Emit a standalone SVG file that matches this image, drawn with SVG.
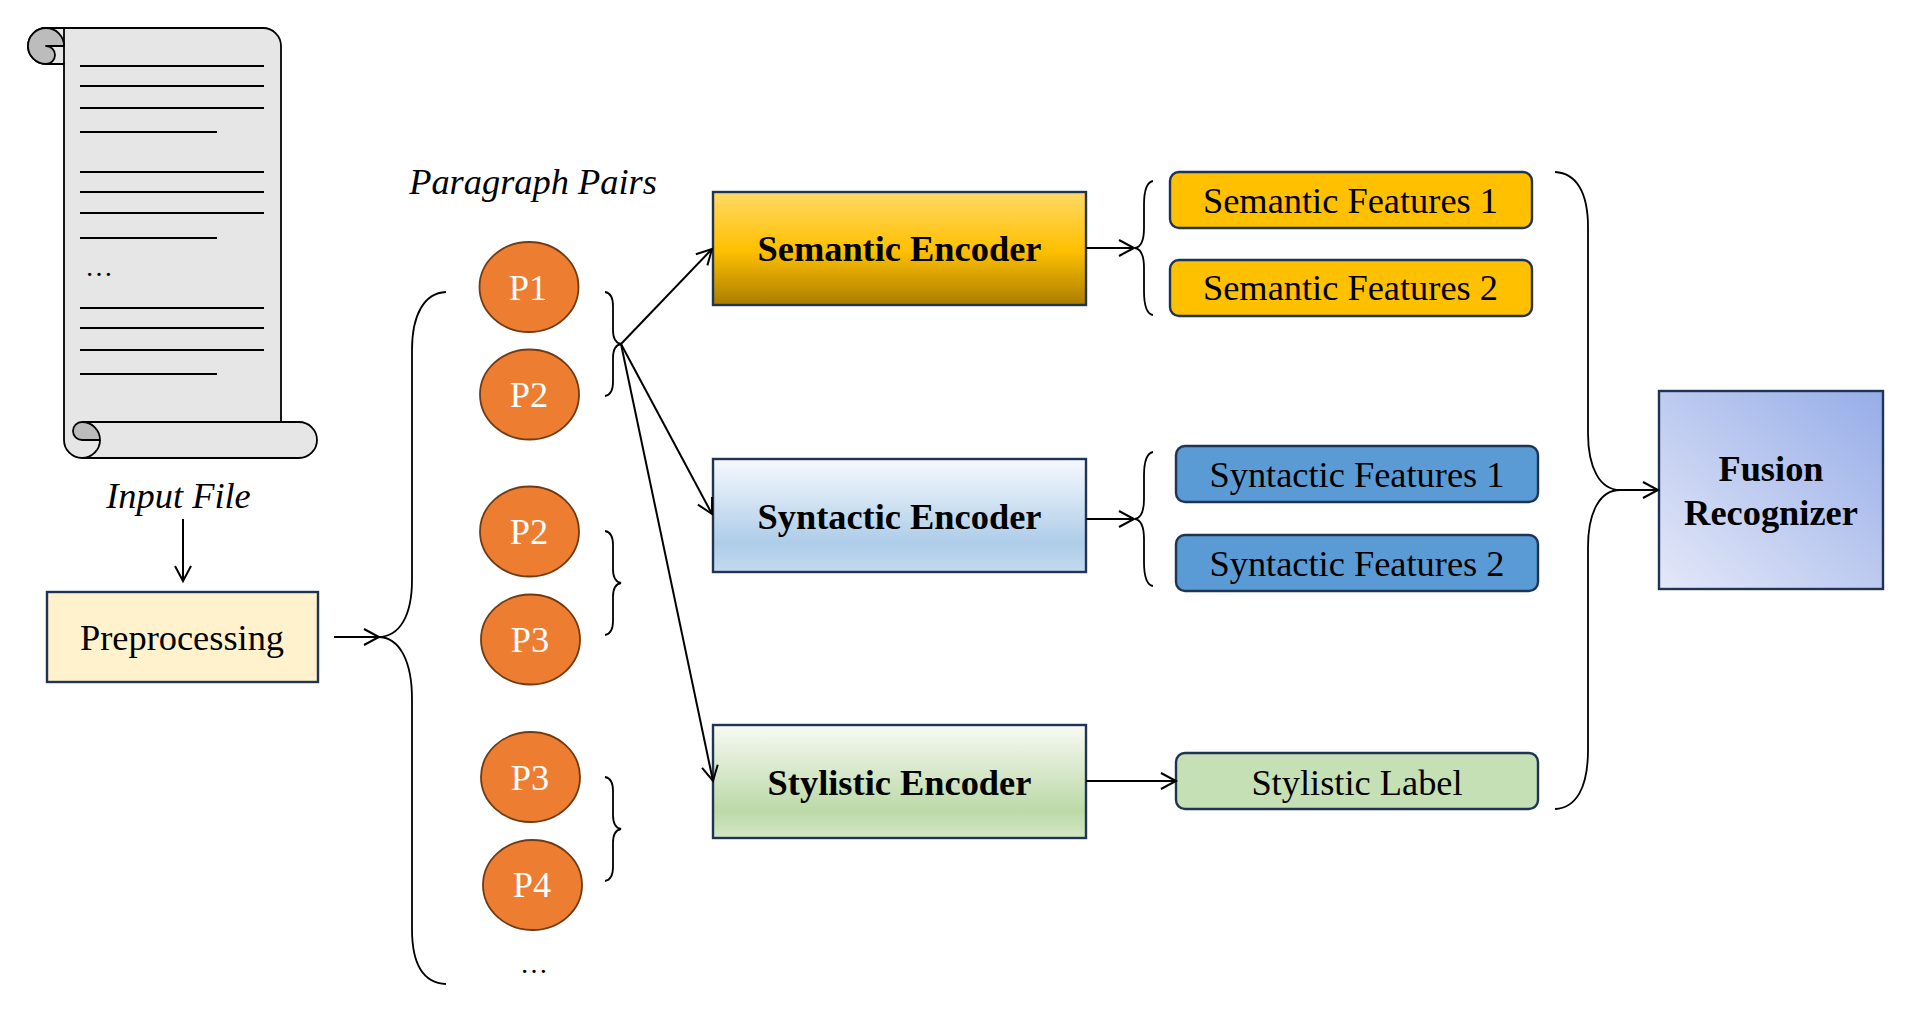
<svg xmlns="http://www.w3.org/2000/svg" width="1930" height="1033" viewBox="0 0 1930 1033">
<style>
text{font-family:"Liberation Serif","Times New Roman",serif;font-size:36.4px;fill:#000;text-anchor:middle}
.b{font-weight:700}
.i{font-style:italic}
.w{fill:#fff}
.box{stroke:#1f3454;stroke-width:2.4}
.c{fill:#ed7d31;stroke:#6f3a14;stroke-width:1.8}
.ln{fill:none;stroke:#000;stroke-width:2}
.sc{stroke:#000;stroke-width:1.8;fill:#e6e6e6;stroke-linejoin:round}
.dk{fill:#bcbcbc}
.br{fill:none;stroke:#000;stroke-width:1.8}
.ar{fill:none;stroke:#000;stroke-width:2;marker-end:url(#arr)}
</style>
<defs>
<marker id="arr" markerUnits="userSpaceOnUse" markerWidth="22" markerHeight="22" viewBox="0 0 22 22" refX="18" refY="11" orient="auto"><path d="M3,3 L18,11 L3,19" fill="none" stroke="#000" stroke-width="2"/></marker>
<linearGradient id="g1" x1="0" y1="0" x2="0" y2="1"><stop offset="0" stop-color="#ffd966"/><stop offset=".52" stop-color="#ffc000"/><stop offset="1" stop-color="#ab7d00"/></linearGradient>
<linearGradient id="g2" x1="0" y1="0" x2="0" y2="1"><stop offset="0" stop-color="#f6f9fd"/><stop offset=".74" stop-color="#aecde9"/><stop offset="1" stop-color="#c3d9ef"/></linearGradient>
<linearGradient id="g3" x1="0" y1="0" x2="0" y2="1"><stop offset="0" stop-color="#f7faf4"/><stop offset=".76" stop-color="#bcd9a7"/><stop offset="1" stop-color="#d3e6c6"/></linearGradient>
<linearGradient id="g4" x1="0" y1="1" x2="1" y2="0"><stop offset="0" stop-color="#e4e8f8"/><stop offset="1" stop-color="#96ade8"/></linearGradient>
</defs>

<g id="input-file">
<path class="sc" d="M46,28 H263 A18,18 0 0 1 281,46 V422 H299 A18,18 0 0 1 299,458 H82 A18,18 0 0 1 64,440 V64 H46 A18,18 0 0 1 46,28 Z"/>
<path class="sc dk" d="M64,46 A18,18 0 1 0 46,64 A9,9 0 0 0 46,46 H64 Z"/>
<path class="sc" style="fill:none" d="M64,28 V64"/>
<path class="sc" style="fill:none" d="M82,422 H281"/>
<path class="sc dk" d="M82,422 A9,9 0 0 0 82,440 H100 A18,18 0 0 0 82,422 Z"/>
<path class="sc" style="fill:none" d="M100,440 A18,18 0 0 1 82,458"/>
<path class="ln" d="M80,66H264M80,86H264M80,108H264M80,132H217M80,172H264M80,192H264M80,213H264M80,238H217M80,308H264M80,328H264M80,350H264M80,374H217"/>
<text x="99" y="275.500" style="font-size:28px">…</text>
<text class="i" x="178.500" y="508">Input File</text>
</g>

<g id="preprocessing">
<rect class="box" x="47" y="592" width="271" height="90" fill="#fff2cc"/>
<text x="182" y="650">Preprocessing</text>
</g>

<g id="paragraph-pairs">
<text class="i" x="533" y="194">Paragraph Pairs</text>
<text x="534" y="973" style="font-size:28px">…</text>
</g>
<g id="p1"><ellipse class="c" cx="529" cy="287" rx="49.500" ry="45"/><text class="w" x="528" y="300">P1</text></g>
<g id="p2a"><ellipse class="c" cx="529.500" cy="394.500" rx="49.500" ry="45"/><text class="w" x="529" y="407">P2</text></g>
<g id="p2b"><ellipse class="c" cx="529.500" cy="531.500" rx="49.500" ry="45"/><text class="w" x="529" y="544">P2</text></g>
<g id="p3a"><ellipse class="c" cx="530.500" cy="639.500" rx="49.500" ry="45"/><text class="w" x="530" y="652">P3</text></g>
<g id="p3b"><ellipse class="c" cx="530.500" cy="777" rx="49.500" ry="45"/><text class="w" x="530" y="790">P3</text></g>
<g id="p4"><ellipse class="c" cx="532.500" cy="885" rx="49.500" ry="45"/><text class="w" x="532" y="897">P4</text></g>

<g id="semantic-encoder"><rect class="box" x="713" y="192" width="373" height="113" fill="url(#g1)"/><text class="b" x="899.500" y="261">Semantic Encoder</text></g>
<g id="syntactic-encoder"><rect class="box" x="713" y="459" width="373" height="113" fill="url(#g2)"/><text class="b" x="899.500" y="529">Syntactic Encoder</text></g>
<g id="stylistic-encoder"><rect class="box" x="713" y="725" width="373" height="113" fill="url(#g3)"/><text class="b" x="899.500" y="795">Stylistic Encoder</text></g>

<g id="semantic-features-1"><rect class="box" x="1170" y="172" width="362" height="56" rx="9" fill="#ffc000"/><text x="1350.500" y="213">Semantic Features 1</text></g>
<g id="semantic-features-2"><rect class="box" x="1170" y="260" width="362" height="56" rx="9" fill="#ffc000"/><text x="1350.500" y="300">Semantic Features 2</text></g>
<g id="syntactic-features-1"><rect class="box" x="1176" y="446" width="362" height="56" rx="9" fill="#5b9bd5"/><text x="1357" y="487">Syntactic Features 1</text></g>
<g id="syntactic-features-2"><rect class="box" x="1176" y="535" width="362" height="56" rx="9" fill="#5b9bd5"/><text x="1357" y="576">Syntactic Features 2</text></g>
<g id="stylistic-label"><rect class="box" x="1176" y="753" width="362" height="56" rx="9" fill="#c5e0b4"/><text x="1357" y="795">Stylistic Label</text></g>

<g id="fusion-recognizer"><rect class="box" x="1659" y="391" width="224" height="198" fill="url(#g4)"/><text class="b" x="1771" y="481">Fusion</text><text class="b" x="1771" y="525">Recognizer</text></g>

<g id="connectors">
<path class="ar" d="M183,519 V581"/>
<path class="ar" d="M334,637 H379"/>
<path class="br" d="M446,292 C424,293 412,315 412,350 V580 C412,615 400,637 378,637 C400,637 412,662 412,699 V929 C412,965 424,983 446,984"/>
<path class="br" d="M605,292 C611,293 613,298 613,306 V330 C613,338 615,343 621,344 C615,345 613,350 613,358 V382 C613,390 611,395 605,396"/>
<path class="br" d="M605,531 C611,532 613,537 613,545 V569 C613,577 615,582 621,583 C615,584 613,589 613,597 V621 C613,629 611,634 605,635"/>
<path class="br" d="M605,777 C611,778 613,783 613,791 V815 C613,823 615,828 621,829 C615,830 613,835 613,843 V867 C613,875 611,880 605,881"/>
<path class="ar" d="M621,344 L712,249"/>
<path class="ar" d="M621,344 L712,514"/>
<path class="ar" d="M621,344 L713,781"/>
<path class="ar" d="M1086,248 H1134"/>
<path class="ar" d="M1086,519 H1134"/>
<path class="ar" d="M1086,781 H1176"/>
<path class="br" d="M1153,181 C1147,182 1144,190 1144,205 V228 C1144,240 1141,247 1135,248 C1141,249 1144,256 1144,268 V291 C1144,306 1147,314 1153,315"/>
<path class="br" d="M1153,452 C1147,453 1144,461 1144,476 V499 C1144,511 1141,518 1135,519 C1141,520 1144,527 1144,539 V562 C1144,577 1147,585 1153,586"/>
<path class="br" d="M1555,172 C1576,173 1588,192 1588,227 V433 C1588,468 1600,490 1620,490 C1600,490 1588,512 1588,547 V750 C1588,788 1576,808 1555,809"/>
<path class="ar" d="M1620,490 H1658"/>
</g>
</svg>
